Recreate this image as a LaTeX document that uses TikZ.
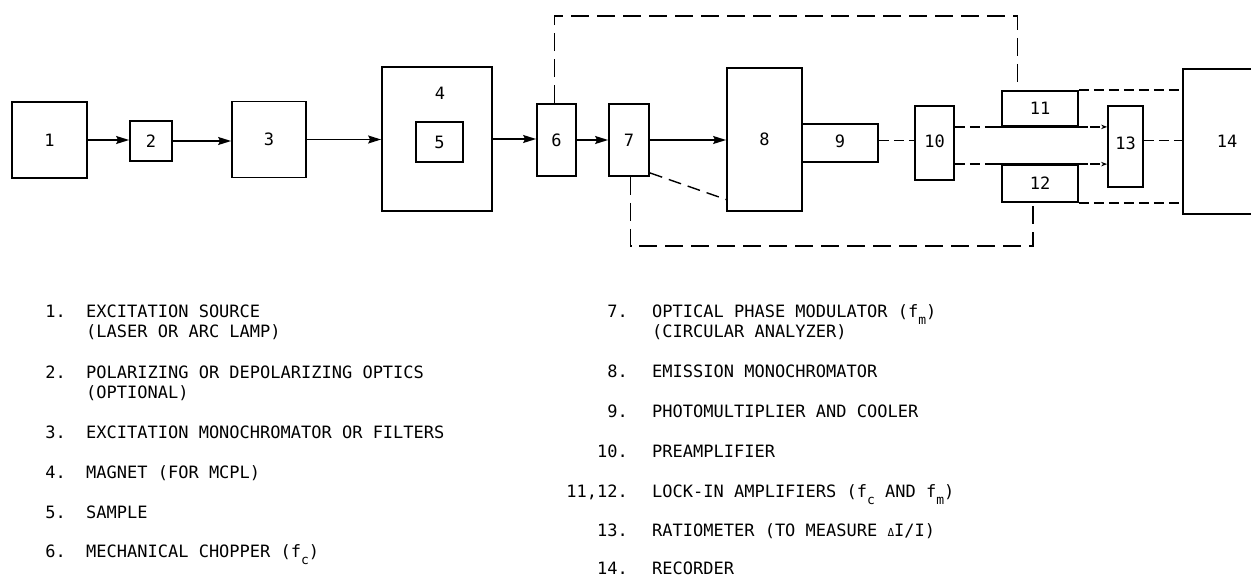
\documentclass[tikz,border=0pt]{standalone}
\usepackage{fontspec}
\setmainfont{DejaVu Sans Mono}
\usetikzlibrary{arrows.meta,calc}
\newcommand{\lowsub}[1]{\raisebox{-7pt}{\fontsize{13}{13}\selectfont #1}}
\begin{document}
\begin{tikzpicture}[x=1pt,y=-1pt,
  font=\fontsize{17}{20}\selectfont,
  box/.style={draw, line width=1.8pt, inner sep=0pt},
  arr/.style={line width=1.4pt, -{Stealth[length=13pt,width=8pt,inset=2pt]}},
  dlong/.style={line width=1.4pt, dash pattern=on 18pt off 8pt},
  dmid/.style={line width=1.4pt, dash pattern=on 13pt off 7pt},
  dshort/.style={line width=1.4pt, dash pattern=on 10pt off 5pt},
  tip/.style={-{Stealth[length=6pt,width=4.5pt]}},
  num/.style={anchor=base east, inner sep=0pt},
  txt/.style={anchor=base west, inner sep=0pt}]
\useasboundingbox (0,0) rectangle (1251,578);

% blocks
\node[box, minimum width=75pt, minimum height=76pt] (b1) at (49.5,140) {1};
\node[box, minimum width=42pt, minimum height=40pt] (b2) at (151,141) {2};
\node[box, minimum width=74pt, minimum height=76pt] (b3) at (269,139.5) {3};
\node[box, minimum width=110pt, minimum height=144pt] (b4) at (437,139) {};
\node (l4) at (440,93) {4};
\node[box, minimum width=47pt, minimum height=40pt] (b5) at (439.5,142) {5};
\node[box, minimum width=39pt, minimum height=72pt] (b6) at (556.5,140) {6};
\node[box, minimum width=40pt, minimum height=72pt] (b7) at (629,140) {7};
\node[box, minimum width=75pt, minimum height=143pt] (b8) at (764.5,139.5) {8};
\node[box, minimum width=76pt, minimum height=38pt] (b9) at (840,143) {\raisebox{3pt}{9}};
\node[box, minimum width=39pt, minimum height=74pt] (b10) at (934.5,143) {\raisebox{3pt}{10}};
\node[box, minimum width=76pt, minimum height=35pt] (b11) at (1040,108.5) {11};
\node[box, minimum width=76pt, minimum height=37pt] (b12) at (1040,183.5) {12};
\node[box, minimum width=35pt, minimum height=81pt] (b13) at (1125.5,146.5) {\raisebox{6pt}{13}};
\node[box, minimum width=114pt, minimum height=145pt] (b14) at (1240,141.5) {};
\node (l14) at (1227,141) {14};

% optical path
\draw[arr] (b1.east) -- (b1.east -| b2.west);
\draw[arr] (b2.east) -- (b2.east -| b3.west);
\draw[arr] (b3.east) -- (b3.east -| b4.west);
\draw[arr] (b4.east) -- (b4.east -| b6.west);
\draw[arr] (b6.east) -- (b6.east -| b7.west);
\draw[arr] (b7.east) -- (b7.east -| b8.west);

% reference loops
\coordinate (ttop) at (0,16);
\coordinate (tbot) at (0,246);
\coordinate (axis) at (0,140.5);
\coordinate (c6) at ($(b6.north)+(-2,0)$);
\coordinate (c11) at ($(b11.north west)+(16.5,0)$);
\draw[dlong] (c6) -- (c6 |- ttop) -| (c11);
\coordinate (c7) at ($(b7.south)+(1.5,0)$);
\coordinate (c12) at ($(b12.south west)+(32,0)$);
\draw[dlong] (c7) -- (c7 |- tbot) -| (c12);
\coordinate (d7) at ($(b7.south east)+(0,-4)$);
\coordinate (d8) at ($(b8.west)+(0,60)$);
\draw[dmid] (d7) -- (d8);

% signal path
\draw[dshort] (b9.east |- axis) -- (b10.west |- axis);
\draw[dshort, tip] (b10.east |- b11.south) -- (b13.west |- b11.south);
\draw[dshort, tip] (b10.east |- b12.north) -- (b13.west |- b12.north);
\draw[line width=1.8pt] ($(b11.south west)+(-9,0)$) -- ($(b11.south east)+(9,0)$);
\draw[line width=1.8pt] ($(b12.north west)+(-9,0)$) -- ($(b12.north east)+(9,0)$);
\draw[dshort] (b11.north east) -- (b11.north east -| b14.west);
\draw[dshort] (b13.east |- axis) -- (b14.west |- axis);
\draw[dshort] (b12.south east) -- (b12.south east -| b14.west);

% legend, left column
\node[num] (n1) at (66,317) {1.};
\node[txt] (t1a) at (86,317) {EXCITATION SOURCE};
\node[txt] (t1b) at (86,337) {(LASER OR ARC LAMP)};
\node[num] (n2) at (66,378) {2.};
\node[txt] (t2a) at (86,378) {POLARIZING OR DEPOLARIZING OPTICS};
\node[txt] (t2b) at (86,398) {(OPTIONAL)};
\node[num] (n3) at (66,438) {3.};
\node[txt] (t3) at (86,438) {EXCITATION MONOCHROMATOR OR FILTERS};
\node[num] (n4) at (66,478) {4.};
\node[txt] (t4) at (86,478) {MAGNET (FOR MCPL)};
\node[num] (n5) at (66,518) {5.};
\node[txt] (t5) at (86,518) {SAMPLE};
\node[num] (n6) at (66,557) {6.};
\node[txt] (t6) at (86,557) {MECHANICAL CHOPPER (f\lowsub{c})};

% legend, right column
\node[num] (n7) at (628,317) {7.};
\node[txt] (t7a) at (652,317) {OPTICAL PHASE MODULATOR (f\lowsub{m})};
\node[txt] (t7b) at (652,337) {(CIRCULAR ANALYZER)};
\node[num] (n8) at (628,377) {8.};
\node[txt] (t8) at (652,377) {EMISSION MONOCHROMATOR};
\node[num] (n9) at (628,417) {9.};
\node[txt] (t9) at (652,417) {PHOTOMULTIPLIER AND COOLER};
\node[num] (n10) at (628,457) {10.};
\node[txt] (t10) at (652,457) {PREAMPLIFIER};
\node[num] (n11) at (628,497) {11,12.};
\node[txt] (t11) at (652,497) {LOCK-IN AMPLIFIERS (f\lowsub{c} AND f\lowsub{m})};
\node[num] (n13) at (628,536) {13.};
\node[txt] (t13) at (652,536) {RATIOMETER (TO MEASURE {\fontsize{11}{11}\selectfont Δ}I/I)};
\node[num] (n14) at (628,574.5) {14.};
\node[txt] (t14) at (652,574.5) {RECORDER};
\end{tikzpicture}
\end{document}
